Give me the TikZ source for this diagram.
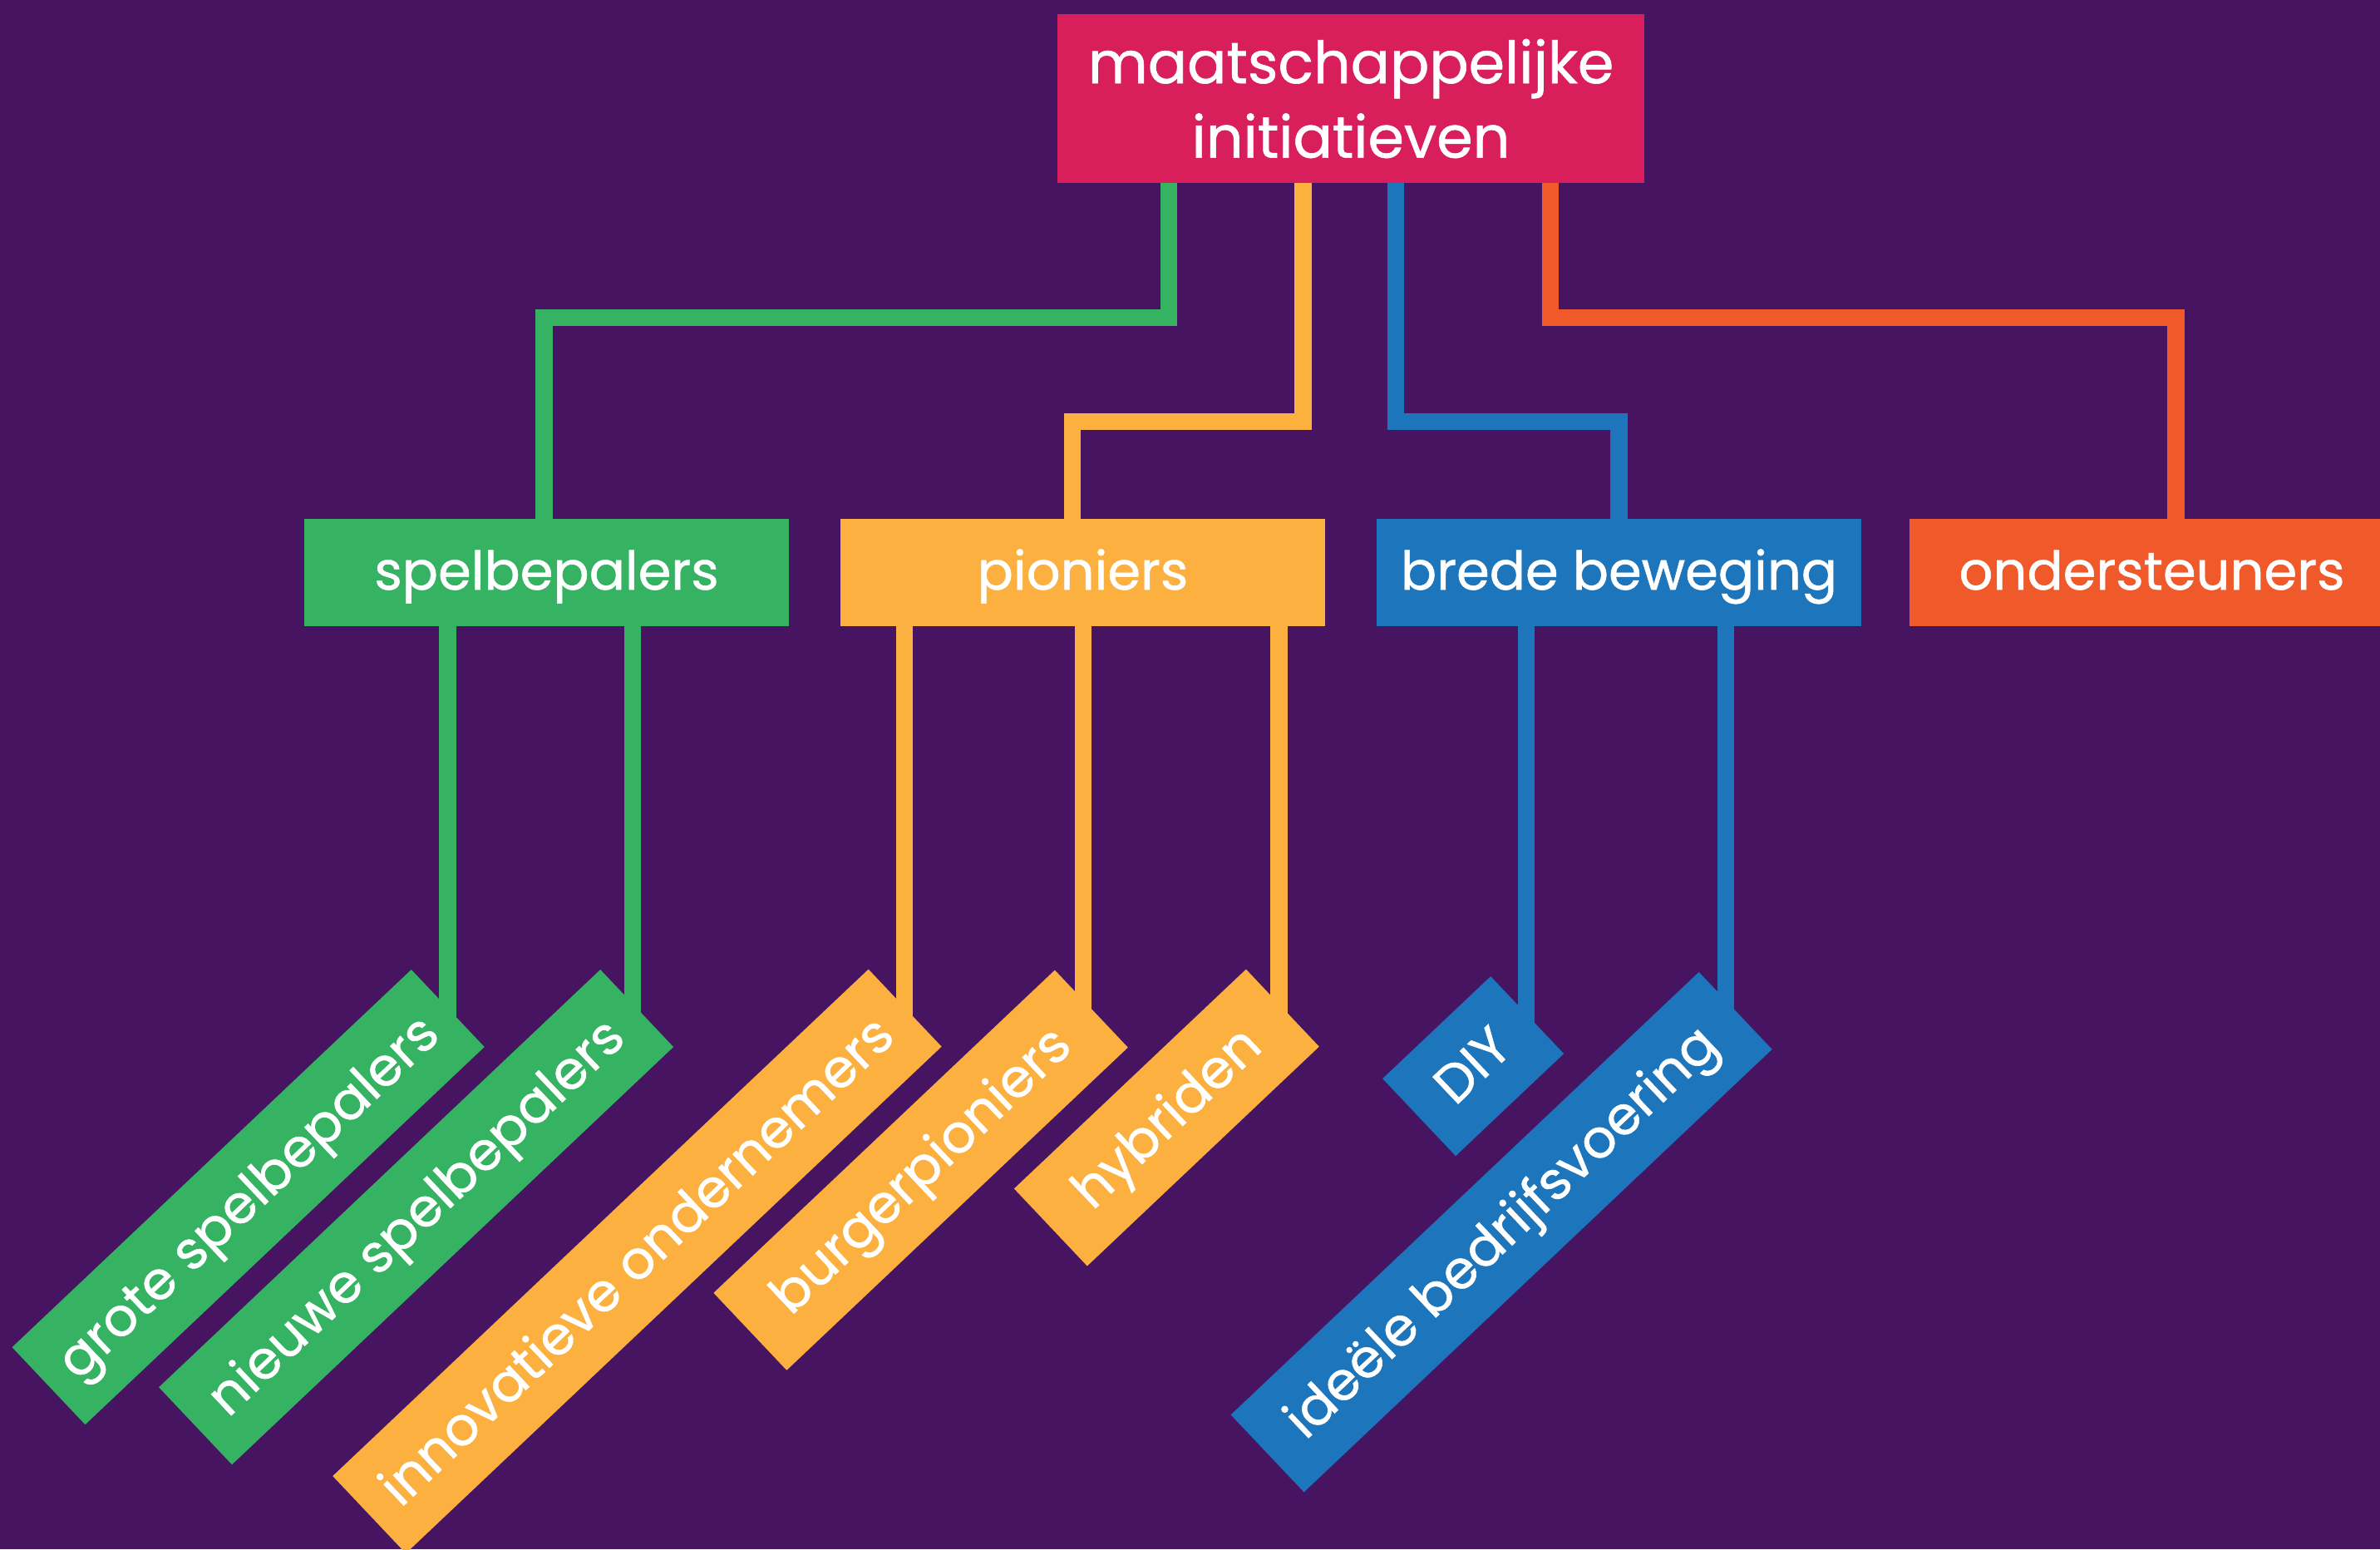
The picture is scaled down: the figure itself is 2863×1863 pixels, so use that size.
\documentclass[tikz,border=0pt]{standalone}
\usepackage{fontspec}
\setmainfont{Poppins}
\newfontfamily\medfont{Poppins}[FakeBold=0.9]
\definecolor{bgpurple}{RGB}{71,20,97}
\definecolor{cgreen}{RGB}{53,178,98}
\definecolor{corange}{RGB}{251,176,64}
\definecolor{cblue}{RGB}{29,117,187}
\definecolor{cred}{RGB}{240,90,42}
\definecolor{cpink}{RGB}{217,30,92}
\pgfdeclarelayer{bg}
\pgfsetlayers{bg,main}
\begin{document}
\begin{tikzpicture}[x=1pt,y=-1pt,
  txt/.style={text=white,inner sep=0pt,font=\medfont\fontsize{64}{70}\selectfont,text height=52pt,text depth=11pt},
  topbox/.style={fill=cpink,text=white,inner sep=0pt,minimum width=706pt,minimum height=203pt,align=center,font=\medfont\fontsize{70}{89.5}\selectfont},
  catbox/.style={txt,fill=#1,minimum width=583pt,minimum height=129pt},
  tagbox/.style={txt,fill=#1,minimum height=128pt,rotate=43.4,anchor=east},
  conn/.style={draw=#1,line width=20.5pt,line join=miter}]
\useasboundingbox (0,0) rectangle (2863,1863);
\clip (0,0) rectangle (2863,1863);

% top
\node[topbox] (top) at (1625,118.5) {maatschappelijke\\initiatieven};

% categories
\node[catbox=cgreen]  (sp) at (657.5,688.5)  {spelbepalers};
\node[catbox=corange] (pi) at (1302.5,688.5) {pioniers};
\node[catbox=cblue]   (bb) at (1947.5,688.5) {brede beweging};
\node[catbox=cred]    (on) at (2588.5,688.5) {ondersteuners};

% tags
\node[tagbox=cgreen,minimum width=661pt]  (gs) at (538.9,1212.4) {grote spelbepalers};
\node[tagbox=cgreen,minimum width=731pt]  (ns) at (766.3,1212.4) {nieuwe spelbepalers};
\node[tagbox=corange,minimum width=887pt] (io) at (1088.8,1212)  {innovatieve ondernemers};
\node[tagbox=corange,minimum width=565pt] (bp) at (1313,1213)    {burgerpioniers};
\node[tagbox=corange,minimum width=384pt] (hy) at (1543,1212)    {hybriden};
\node[tagbox=cblue,minimum width=179pt]   (diy) at (1837.3,1220.5) {DIY};
\node[tagbox=cblue,minimum width=775pt]   (ib) at (2087.8,1215.3) {ideële bedrijfsvoering};

% connector ends inside the tags
\coordinate (egs) at (538.5,1234);
\coordinate (ens) at (761,1234);
\coordinate (eio) at (1088,1234);
\coordinate (ebp) at (1303,1235);
\coordinate (ehy) at (1538.5,1234);
\coordinate (ediy) at (1836,1242);
\coordinate (eib) at (2076,1237);

\begin{pgfonlayer}{bg}
\fill[bgpurple] (0,0) rectangle (2863,1863);
\draw[conn=cgreen]  (top.center -| 1406,0) -- (1406,382) -| ([xshift=-3pt]sp.center);
\draw[conn=corange] (top.center -| 1567.5,0) -- (1567.5,507) -| ([xshift=-12.5pt]pi.center);
\draw[conn=cblue]   (top.center -| 1679,0) -- (1679,507) -| (bb.center);
\draw[conn=cred]    (top.center -| 1865,0) -- (1865,382) -| ([xshift=29pt]on.center);

\draw[conn=cgreen]  (sp.center -| egs) -- (egs);
\draw[conn=cgreen]  (sp.center -| ens) -- (ens);
\draw[conn=corange] (pi.center -| eio) -- (eio);
\draw[conn=corange] (pi.center -| ebp) -- (ebp);
\draw[conn=corange] (pi.center -| ehy) -- (ehy);
\draw[conn=cblue]   (bb.center -| ediy) -- (ediy);
\draw[conn=cblue]   (bb.center -| eib) -- (eib);
\end{pgfonlayer}
\end{tikzpicture}
\end{document}
